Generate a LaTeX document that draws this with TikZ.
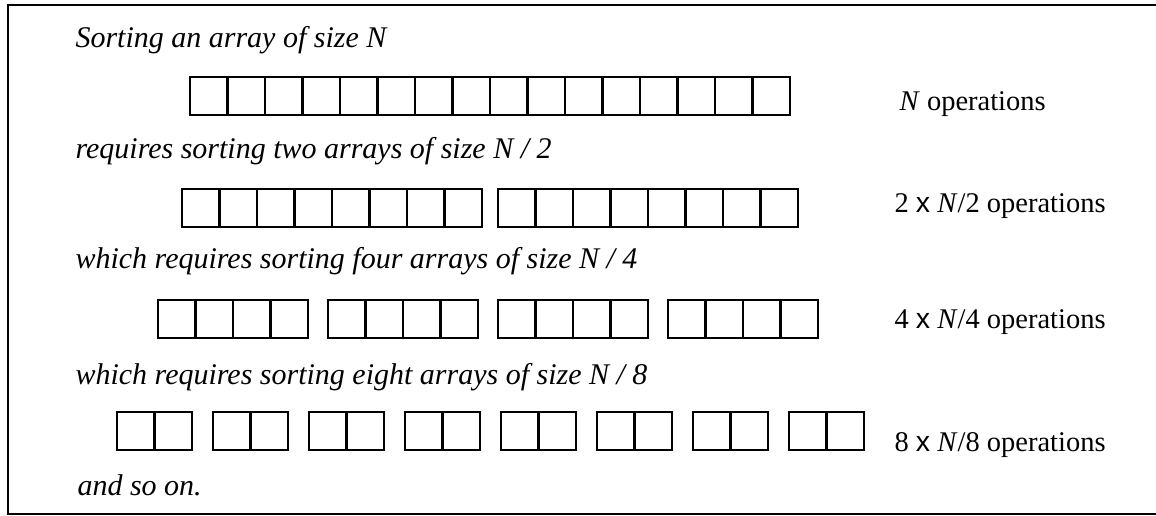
\documentclass[tikz,border=0pt]{standalone}
\usepackage{fontspec}
\setmainfont{Liberation Serif}
\newfontfamily\timesx{Liberation Sans}

\begin{document}
\begin{tikzpicture}[x=1pt, y=-1pt,
    cell/.style={draw, line width=2.5pt, minimum width=37.5pt, minimum height=38pt,
        inner sep=0pt, outer sep=0pt, anchor=north west},
    say/.style={anchor=base west, font=\fontsize{30}{36}\selectfont\itshape},
    ops/.style={anchor=base west, font=\fontsize{28.5}{34}\selectfont}]
    \useasboundingbox (0,0) rectangle (1156,515);
    \draw[line width=2.5pt] (1156,5) -- (8,5) -- (8,514) -- (1156,514);

    % row / groups / cells per group / left x / group pitch / top y
    \foreach \r/\g/\k/\x/\p/\y in {1/1/16/190/0/77, 2/2/8/182/316/189,
        3/4/4/158/170/300, 4/8/2/117/96/412} {
        \foreach \i in {1,...,\g} {
            \foreach \j in {1,...,\k} {
                \node[cell] (c\r-\i-\j) at ({\x+(\i-1)*\p+(\j-1)*37.5},\y) {};
              }
          }
      }

    \node[say] (t1) at (72,47) {Sorting an array of size N};
    \node[say] (t2) at (72,158) {requires sorting two arrays of size N / 2};
    \node[say] (t3) at (72,268) {which requires sorting four arrays of size N / 4};
    \node[say] (t4) at (72,384) {which requires sorting eight arrays of size N / 8};
    \node[say] (t5) at (74,495) {and so on.};

    \node[ops] (o1) at (896,110) {\textit{N} operations};
    \node[ops] (o2) at (891,212) {2 {\timesx x} \textit{N}/2 operations};
    \node[ops] (o3) at (891,328) {4 {\timesx x} \textit{N}/4 operations};
    \node[ops] (o4) at (891,451) {8 {\timesx x} \textit{N}/8 operations};
  \end{tikzpicture}
\end{document}
